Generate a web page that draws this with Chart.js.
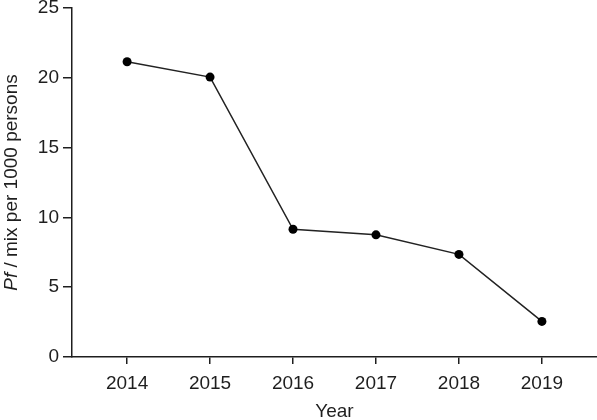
<!DOCTYPE html>
<html>
<head>
<meta charset="utf-8">
<script src="https://cdn.jsdelivr.net/npm/chart.js@4/dist/chart.umd.min.js"></script>
<style>
html,body{margin:0;padding:0;background:#fff;}
#wrap{width:597px;height:420px;}
</style>
</head>
<body>
<div id="wrap"><canvas id="c" width="597" height="420"></canvas></div>
<script>
const years = [2014, 2015, 2016, 2017, 2018, 2019];
const pfValues = [21.15, 20.05, 9.15, 8.75, 7.35, 2.55];
const yTicks = [0, 5, 10, 15, 20, 25];
const xTitle = 'Year';
const yTitleItalic = 'Pf';
const yTitleRest = ' / mix per 1000 persons';

const FONT = '"Liberation Sans", Arial, sans-serif';
const INK = '#1e1e1e';
const FS = 19;

const titlesPlugin = {
  id: 'titles',
  afterDraw(chart) {
    const ctx = chart.ctx;
    const ca = chart.chartArea;
    ctx.save();
    ctx.fillStyle = INK;
    ctx.font = FS + 'px ' + FONT;
    ctx.textAlign = 'center';
    ctx.textBaseline = 'middle';
    ctx.fillText(xTitle, (ca.left + ca.right) / 2, 412);
    ctx.translate(16.5, (ca.top + ca.bottom) / 2);
    ctx.rotate(-Math.PI / 2);
    ctx.textAlign = 'left';
    ctx.textBaseline = 'alphabetic';
    ctx.font = 'italic ' + FS + 'px ' + FONT;
    const w1 = ctx.measureText(yTitleItalic).width;
    ctx.font = FS + 'px ' + FONT;
    const w2 = ctx.measureText(yTitleRest).width;
    const x = -(w1 + w2) / 2;
    ctx.font = 'italic ' + FS + 'px ' + FONT;
    ctx.fillText(yTitleItalic, x, 0);
    ctx.font = FS + 'px ' + FONT;
    ctx.fillText(yTitleRest, x + w1, 0);
    ctx.restore();
  }
};

new Chart(document.getElementById('c'), {
  type: 'line',
  data: {
    datasets: [{
      data: years.map((y, i) => ({x: y, y: pfValues[i]})),
      borderColor: '#222',
      borderWidth: 1.5,
      pointRadius: 4.5,
      pointBackgroundColor: '#000',
      pointBorderColor: '#000',
      pointBorderWidth: 0,
      tension: 0,
      fill: false,
      clip: false
    }]
  },
  options: {
    responsive: false,
    animation: false,
    devicePixelRatio: 1,
    layout: {autoPadding: false, padding: {top: 8, right: 0, left: 0, bottom: 0}},
    plugins: {legend: {display: false}, tooltip: {enabled: false}},
    scales: {
      x: {
        type: 'linear',
        min: 2013.336,
        max: 2019.664,
        afterBuildTicks(scale) { scale.ticks = years.map(v => ({value: v})); },
        afterFit(scale) {
          scale.height = 63;
          scale.paddingLeft = 0; scale.paddingRight = 0;
          scale.paddingTop = 0; scale.paddingBottom = 0;
        },
        ticks: {
          color: INK,
          font: {family: FONT, size: FS},
          padding: 8,
          callback: v => String(v),
          maxRotation: 0
        },
        grid: {drawOnChartArea: false, drawTicks: true, tickLength: 7, color: INK, lineWidth: 1.5},
        border: {display: true, color: INK, width: 1.5}
      },
      y: {
        min: 0,
        max: 25,
        afterBuildTicks(scale) { scale.ticks = yTicks.map(v => ({value: v})); },
        afterFit(scale) {
          scale.width = 72;
          scale.paddingLeft = 0; scale.paddingRight = 0;
          scale.paddingTop = 0; scale.paddingBottom = 0;
        },
        ticks: {
          color: INK,
          font: {family: FONT, size: FS},
          padding: 4
        },
        grid: {drawOnChartArea: false, drawTicks: true, tickLength: 9, color: INK, lineWidth: 1.5},
        border: {display: true, color: INK, width: 1.5}
      }
    }
  },
  plugins: [titlesPlugin]
});
</script>
</body>
</html>
